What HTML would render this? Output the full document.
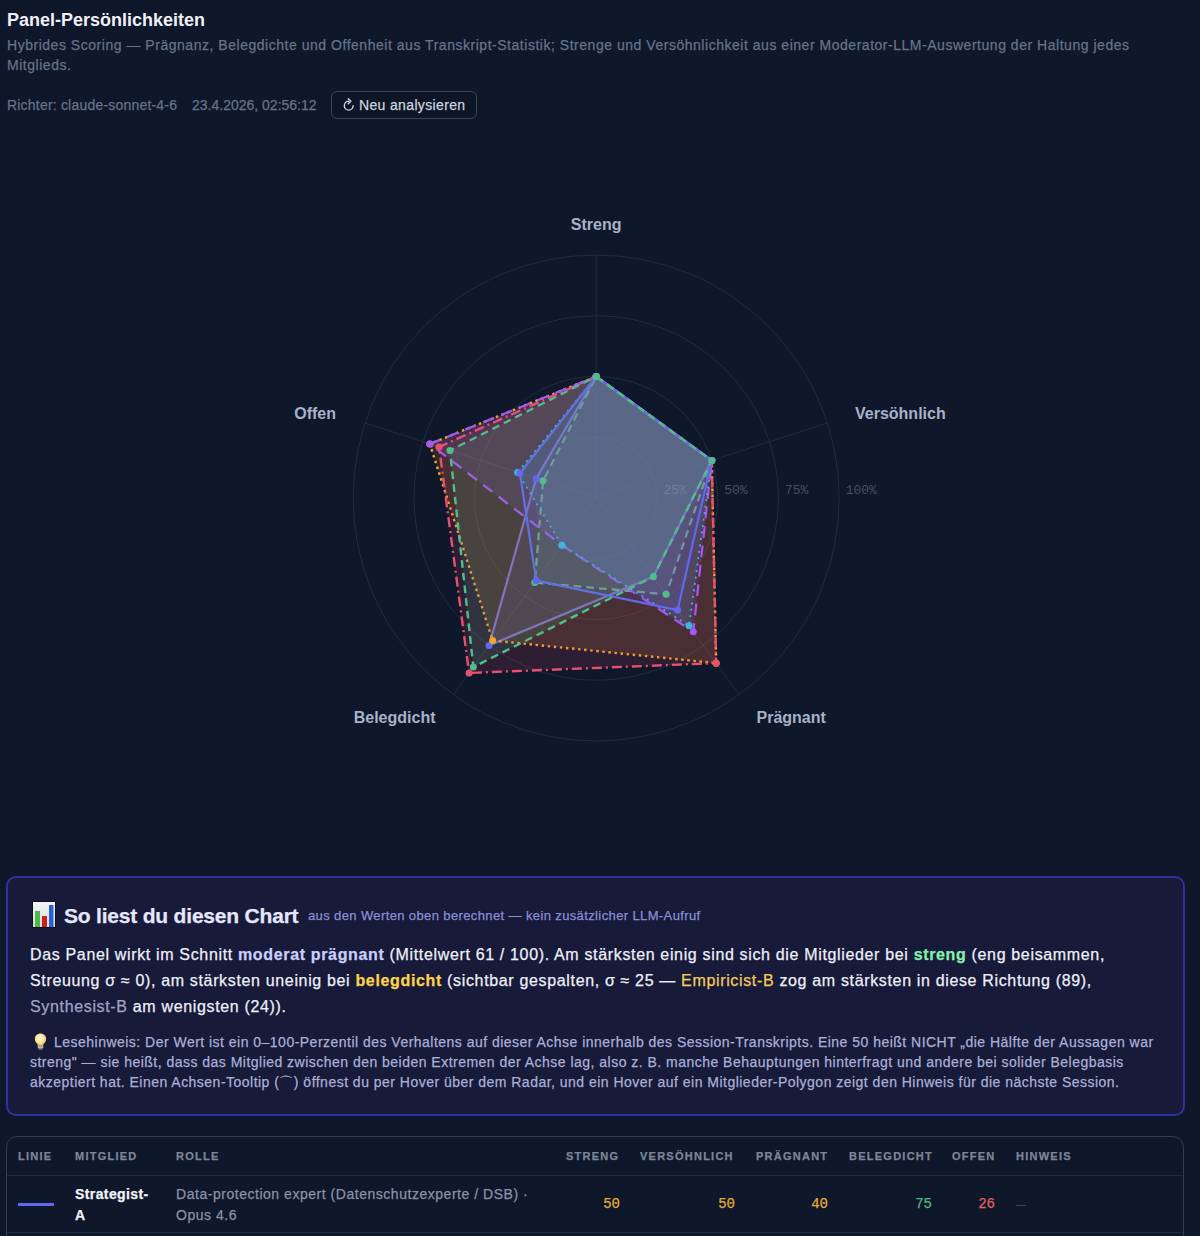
<!DOCTYPE html>
<html><head><meta charset="utf-8"><style>
*{box-sizing:border-box}
html,body{margin:0;padding:0;background:#0f172a;width:1200px;height:1236px;overflow:hidden}
body{font-family:"Liberation Sans",sans-serif;position:relative;color:#e5e7eb;-webkit-text-stroke:0.25px currentColor}
.abs{position:absolute;white-space:nowrap}
#title{left:7px;top:6.5px;font-size:18px;font-weight:700;color:#eef0f6;line-height:26px;-webkit-text-stroke:0}
.sub{left:7px;font-size:14px;color:#64748b;letter-spacing:0.526px;line-height:20px}
.meta{top:95px;font-size:14px;color:#64748b;line-height:20px}
#btn{left:331px;top:91px;width:146px;height:28px;border:1px solid #3a4458;border-radius:6px;background:#0e1527}
#btn span{position:absolute;left:27px;top:3px;font-size:14px;color:#cdd3de;letter-spacing:0.35px;line-height:20px}
#box{left:6px;top:876px;width:1179px;height:240px;border:2px solid #352f9e;border-radius:10px;background:#171a38}
#box .h{position:absolute;left:56px;top:25px;font-size:21px;font-weight:700;color:#e6e7fb;line-height:26px;letter-spacing:-0.2px}
#box .hs{position:absolute;left:300px;top:28px;font-size:13px;color:#8a8fd4;letter-spacing:0.38px;line-height:20px}
#box .pl{position:absolute;left:22px;font-size:16px;line-height:20px;color:#eef0f8;letter-spacing:0.655px;white-space:nowrap}
#box .nl{position:absolute;left:22px;font-size:14px;line-height:20px;color:#aaafd7;letter-spacing:0.48px;white-space:nowrap}
#tbl{left:6px;top:1136px;width:1178px;height:120px;border:1px solid #343e51;border-radius:11px}
.th{position:absolute;top:11.7px;font-size:11px;font-weight:700;color:#7d8699;letter-spacing:1.25px;line-height:14px}
.hr{position:absolute;left:0;width:1176px;height:1px;background:#232b3b}
.td{position:absolute;font-size:14px;line-height:20.5px}
.num{position:absolute;font-family:"Liberation Mono",monospace;font-size:14px;line-height:20px;text-align:right;width:40px}
</style></head><body>
<div id="title" class="abs">Panel-Persönlichkeiten</div>
<div class="abs sub" style="top:35px">Hybrides Scoring — Prägnanz, Belegdichte und Offenheit aus Transkript-Statistik; Strenge und Versöhnlichkeit aus einer Moderator-LLM-Auswertung der Haltung jedes</div>
<div class="abs sub" style="top:55px">Mitglieds.</div>
<div class="abs meta" style="left:7px;letter-spacing:0.2px">Richter: claude-sonnet-4-6</div>
<div class="abs meta" style="left:192px">23.4.2026, 02:56:12</div>
<div id="btn" class="abs"><svg width="30" height="26" viewBox="0 0 30 26" style="position:absolute;left:0;top:0"><path d="M16.7 9.3A4.4 4.4 0 1 0 21.1 13.7" fill="none" stroke="#cfd4de" stroke-width="1.4" stroke-linecap="round"/><path d="M16.3 6.8L18.9 9.3L16.3 11.7" fill="none" stroke="#cfd4de" stroke-width="1.4" stroke-linecap="round" stroke-linejoin="round"/></svg><span>Neu analysieren</span></div>
<svg width="1200" height="880" viewBox="0 0 1200 880" style="position:absolute;left:0;top:0">
<g><circle cx="596.2" cy="498.0" r="60.75" fill="none" stroke="#212c3f" stroke-width="1"/><circle cx="596.2" cy="498.0" r="121.50" fill="none" stroke="#212c3f" stroke-width="1"/><circle cx="596.2" cy="498.0" r="182.25" fill="none" stroke="#212c3f" stroke-width="1"/><circle cx="596.2" cy="498.0" r="243.00" fill="none" stroke="#212c3f" stroke-width="1"/><line x1="596.2" y1="498.0" x2="596.20" y2="255.00" stroke="#212c3f" stroke-width="1"/><line x1="596.2" y1="498.0" x2="827.31" y2="422.91" stroke="#212c3f" stroke-width="1"/><line x1="596.2" y1="498.0" x2="739.03" y2="694.59" stroke="#212c3f" stroke-width="1"/><line x1="596.2" y1="498.0" x2="453.37" y2="694.59" stroke="#212c3f" stroke-width="1"/><line x1="596.2" y1="498.0" x2="365.09" y2="422.91" stroke="#212c3f" stroke-width="1"/></g>
<polygon points="596.20,376.50 711.75,460.45 653.33,576.64 489.08,645.44 536.11,478.48" fill="#6366f1" fill-opacity="0.14" stroke="none"/>
<polygon points="596.20,376.50 711.75,460.45 653.33,576.64 489.08,645.44 536.11,478.48" fill="none" stroke="#6366f1" stroke-width="2.2" stroke-linejoin="round"/>
<polygon points="596.20,376.50 711.75,460.45 666.19,594.33 534.78,582.53 543.05,480.73" fill="#50be8c" fill-opacity="0.14" stroke="none"/>
<polygon points="596.20,376.50 711.75,460.45 666.19,594.33 534.78,582.53 543.05,480.73" fill="none" stroke="#50be8c" stroke-width="2.2" stroke-dasharray="7.7 5.04" stroke-linejoin="round"/>
<polygon points="596.20,376.50 711.75,460.45 716.18,663.14 492.65,640.53 429.80,443.93" fill="#f5a52d" fill-opacity="0.14" stroke="none"/>
<polygon points="596.20,376.50 711.75,460.45 716.18,663.14 492.65,640.53 429.80,443.93" fill="none" stroke="#f5a52d" stroke-width="2.4" stroke-dasharray="2.5 3.6" stroke-linejoin="round"/>
<polygon points="596.20,376.50 711.75,460.45 716.18,663.14 469.08,672.97 439.05,446.94" fill="#e8506e" fill-opacity="0.14" stroke="none"/>
<polygon points="596.20,376.50 711.75,460.45 716.18,663.14 469.08,672.97 439.05,446.94" fill="none" stroke="#e8506e" stroke-width="2.4" stroke-dasharray="10 4 2 4" stroke-linejoin="round"/>
<polygon points="596.20,376.50 711.75,460.45 693.33,631.68 561.92,545.18 429.80,443.93" fill="#a855f7" fill-opacity="0.14" stroke="none"/>
<polygon points="596.20,376.50 711.75,460.45 693.33,631.68 561.92,545.18 429.80,443.93" fill="none" stroke="#a855f7" stroke-width="2.2" stroke-dasharray="11.75 7.75" stroke-dashoffset="5.6" stroke-linejoin="round"/>
<polygon points="596.20,376.50 711.75,460.45 689.04,625.78 561.92,545.18 517.62,472.47" fill="#3cb9d7" fill-opacity="0.14" stroke="none"/>
<polygon points="596.20,376.50 711.75,460.45 689.04,625.78 561.92,545.18 517.62,472.47" fill="none" stroke="#3cb9d7" stroke-width="1.8" stroke-dasharray="2 4.5" stroke-linejoin="round"/>
<polygon points="596.20,376.50 711.75,460.45 677.61,610.06 536.21,580.57 519.93,473.22" fill="#6366f1" fill-opacity="0.14" stroke="none"/>
<polygon points="596.20,376.50 711.75,460.45 677.61,610.06 536.21,580.57 519.93,473.22" fill="none" stroke="#6366f1" stroke-width="2.2" stroke-linejoin="round"/>
<polygon points="596.20,376.50 711.75,460.45 653.33,576.64 473.36,667.07 449.91,450.47" fill="#50be8c" fill-opacity="0.14" stroke="none"/>
<polygon points="596.20,376.50 711.75,460.45 653.33,576.64 473.36,667.07 449.91,450.47" fill="none" stroke="#50be8c" stroke-width="2.4" stroke-dasharray="7.7 5.04" stroke-dashoffset="-0.84" stroke-linejoin="round"/>
<circle cx="596.20" cy="376.50" r="3.5" fill="#6366f1"/>
<circle cx="711.75" cy="460.45" r="3.5" fill="#6366f1"/>
<circle cx="653.33" cy="576.64" r="3.5" fill="#6366f1"/>
<circle cx="489.08" cy="645.44" r="3.5" fill="#6366f1"/>
<circle cx="536.11" cy="478.48" r="3.5" fill="#6366f1"/>
<circle cx="596.20" cy="376.50" r="3.5" fill="#50be8c"/>
<circle cx="711.75" cy="460.45" r="3.5" fill="#50be8c"/>
<circle cx="666.19" cy="594.33" r="3.5" fill="#50be8c"/>
<circle cx="534.78" cy="582.53" r="3.5" fill="#50be8c"/>
<circle cx="543.05" cy="480.73" r="3.5" fill="#50be8c"/>
<circle cx="596.20" cy="376.50" r="3.5" fill="#f5a52d"/>
<circle cx="711.75" cy="460.45" r="3.5" fill="#f5a52d"/>
<circle cx="716.18" cy="663.14" r="3.5" fill="#f5a52d"/>
<circle cx="492.65" cy="640.53" r="3.5" fill="#f5a52d"/>
<circle cx="429.80" cy="443.93" r="3.5" fill="#f5a52d"/>
<circle cx="596.20" cy="376.50" r="3.5" fill="#e8506e"/>
<circle cx="711.75" cy="460.45" r="3.5" fill="#e8506e"/>
<circle cx="716.18" cy="663.14" r="3.5" fill="#e8506e"/>
<circle cx="469.08" cy="672.97" r="3.5" fill="#e8506e"/>
<circle cx="439.05" cy="446.94" r="3.5" fill="#e8506e"/>
<circle cx="596.20" cy="376.50" r="3.5" fill="#a855f7"/>
<circle cx="711.75" cy="460.45" r="3.5" fill="#a855f7"/>
<circle cx="693.33" cy="631.68" r="3.5" fill="#a855f7"/>
<circle cx="561.92" cy="545.18" r="3.5" fill="#a855f7"/>
<circle cx="429.80" cy="443.93" r="3.5" fill="#a855f7"/>
<circle cx="596.20" cy="376.50" r="3.5" fill="#3cb9d7"/>
<circle cx="711.75" cy="460.45" r="3.5" fill="#3cb9d7"/>
<circle cx="689.04" cy="625.78" r="3.5" fill="#3cb9d7"/>
<circle cx="561.92" cy="545.18" r="3.5" fill="#3cb9d7"/>
<circle cx="517.62" cy="472.47" r="3.5" fill="#3cb9d7"/>
<circle cx="596.20" cy="376.50" r="3.5" fill="#6366f1"/>
<circle cx="711.75" cy="460.45" r="3.5" fill="#6366f1"/>
<circle cx="677.61" cy="610.06" r="3.5" fill="#6366f1"/>
<circle cx="536.21" cy="580.57" r="3.5" fill="#6366f1"/>
<circle cx="519.93" cy="473.22" r="3.5" fill="#6366f1"/>
<circle cx="596.20" cy="376.50" r="3.5" fill="#50be8c"/>
<circle cx="711.75" cy="460.45" r="3.5" fill="#50be8c"/>
<circle cx="653.33" cy="576.64" r="3.5" fill="#50be8c"/>
<circle cx="473.36" cy="667.07" r="3.5" fill="#50be8c"/>
<circle cx="449.91" cy="450.47" r="3.5" fill="#50be8c"/>
<text x="663.5" y="494" font-family="Liberation Mono" font-size="13" fill="#94a3b8" fill-opacity="0.42">25%</text>
<text x="724.2" y="494" font-family="Liberation Mono" font-size="13" fill="#94a3b8" fill-opacity="0.42">50%</text>
<text x="785.0" y="494" font-family="Liberation Mono" font-size="13" fill="#94a3b8" fill-opacity="0.42">75%</text>
<text x="845.7" y="494" font-family="Liberation Mono" font-size="13" fill="#94a3b8" fill-opacity="0.42">100%</text>
<text x="596.2" y="230.4" text-anchor="middle" font-family="Liberation Sans" font-weight="700" font-size="16" fill="#a8b2c8">Streng</text>
<text x="855" y="418.7" text-anchor="start" font-family="Liberation Sans" font-weight="700" font-size="16" fill="#a8b2c8">Versöhnlich</text>
<text x="756.5" y="722.8" text-anchor="start" font-family="Liberation Sans" font-weight="700" font-size="16" fill="#a8b2c8">Prägnant</text>
<text x="435.5" y="722.8" text-anchor="end" font-family="Liberation Sans" font-weight="700" font-size="16" fill="#a8b2c8">Belegdicht</text>
<text x="336" y="418.7" text-anchor="end" font-family="Liberation Sans" font-weight="700" font-size="16" fill="#a8b2c8">Offen</text>
</svg>
<div id="box" class="abs">
<svg style="position:absolute;left:24px;top:23px" width="24" height="27" viewBox="0 0 24 27"><defs><linearGradient id="eg" x1="0" y1="0" x2="0" y2="1"><stop offset="0" stop-color="#f4f5f7"/><stop offset="1" stop-color="#d9dbe0"/></linearGradient></defs><rect x="0.5" y="0.5" width="23" height="26" fill="url(#eg)" stroke="#0c0e1e" stroke-width="1"/><rect x="3" y="10" width="5" height="16" fill="#4cb848"/><rect x="10" y="15" width="5" height="11" fill="#c8241c"/><rect x="17" y="4" width="4.5" height="22" fill="#2a62d6"/></svg>
<div class="h">So liest du diesen Chart</div>
<div class="hs">aus den Werten oben berechnet — kein zusätzlicher LLM-Aufruf</div>
<div class="pl" id="p1" style="top:66.6px">Das Panel wirkt im Schnitt <b style="color:#c9d0fc">moderat prägnant</b> (Mittelwert 61 / 100). Am stärksten einig sind sich die Mitglieder bei <b style="color:#86efac">streng</b> (eng beisammen,</div>
<div class="pl" id="p2" style="top:92.7px">Streuung σ ≈ 0), am stärksten uneinig bei <b style="color:#fcd34d">belegdicht</b> (sichtbar gespalten, σ ≈ 25 — <span style="color:#f2cc5e">Empiricist-B</span> zog am stärksten in diese Richtung (89),</div>
<div class="pl" id="p3" style="top:118.7px"><span style="color:#9fa5c8">Synthesist-B</span> am wenigsten (24)).</div>
<svg style="position:absolute;left:25.5px;top:154.5px" width="13" height="17" viewBox="0 0 13 17"><defs><radialGradient id="bg1" cx="0.45" cy="0.4" r="0.6"><stop offset="0" stop-color="#fffbe0"/><stop offset="0.6" stop-color="#fbe49a"/><stop offset="1" stop-color="#e8b84a"/></radialGradient></defs><path d="M6.5 0.6C3.2 0.6 0.8 3 0.8 6c0 2.2 1.3 3.5 2.2 4.6.5.6.7 1.2.7 1.9h5.6c0-.7.2-1.3.7-1.9.9-1.1 2.2-2.4 2.2-4.6 0-3-2.4-5.4-5.7-5.4z" fill="url(#bg1)"/><rect x="3.7" y="12.3" width="5.6" height="3.2" rx="0.8" fill="#b9b2a6"/><rect x="4.6" y="15.2" width="3.8" height="1.5" rx="0.7" fill="#8c857c"/></svg>
<div class="nl" id="n1" style="top:154px;left:46px">Lesehinweis: Der Wert ist ein 0–100-Perzentil des Verhaltens auf dieser Achse innerhalb des Session-Transkripts. Eine 50 heißt NICHT „die Hälfte der Aussagen war</div>
<div class="nl" id="n2" style="top:174px">streng" — sie heißt, dass das Mitglied zwischen den beiden Extremen der Achse lag, also z. B. manche Behauptungen hinterfragt und andere bei solider Belegbasis</div>
<div class="nl" id="n3" style="top:194px">akzeptiert hat. Einen Achsen-Tooltip (⌒) öffnest du per Hover über dem Radar, und ein Hover auf ein Mitglieder-Polygon zeigt den Hinweis für die nächste Session.</div>
</div>
<div id="tbl" class="abs">
<div class="th" style="left:11px">LINIE</div>
<div class="th" style="left:68px">MITGLIED</div>
<div class="th" style="left:169px">ROLLE</div>
<div class="th" style="left:559px">STRENG</div>
<div class="th" style="left:633px">VERSÖHNLICH</div>
<div class="th" style="left:749px">PRÄGNANT</div>
<div class="th" style="left:842px">BELEGDICHT</div>
<div class="th" style="left:945px">OFFEN</div>
<div class="th" style="left:1009px">HINWEIS</div>
<div class="hr" style="top:38px"></div>
<div style="position:absolute;left:11px;top:66px;width:36px;height:3px;background:#6366f1"></div>
<div class="td" style="left:68px;top:47px;font-weight:700;color:#f3f4f8;letter-spacing:0.4px">Strategist-<br>A</div>
<div class="td" id="role" style="left:169px;top:47px;color:#8a92a6;letter-spacing:0.53px">Data-protection expert (Datenschutzexperte / DSB) ·<br>Opus 4.6</div>
<div class="num" style="left:573px;top:57px;color:#e3ad3b">50</div>
<div class="num" style="left:688px;top:57px;color:#e3ad3b">50</div>
<div class="num" style="left:781px;top:57px;color:#e3ad3b">40</div>
<div class="num" style="left:885px;top:57px;color:#4fb87a">75</div>
<div class="num" style="left:948px;top:57px;color:#e0605e">26</div>
<div style="position:absolute;left:1009px;top:68px;width:10px;height:1.2px;background:#3e4658"></div>
<div class="hr" style="top:95px"></div>
</div>
</body></html>
